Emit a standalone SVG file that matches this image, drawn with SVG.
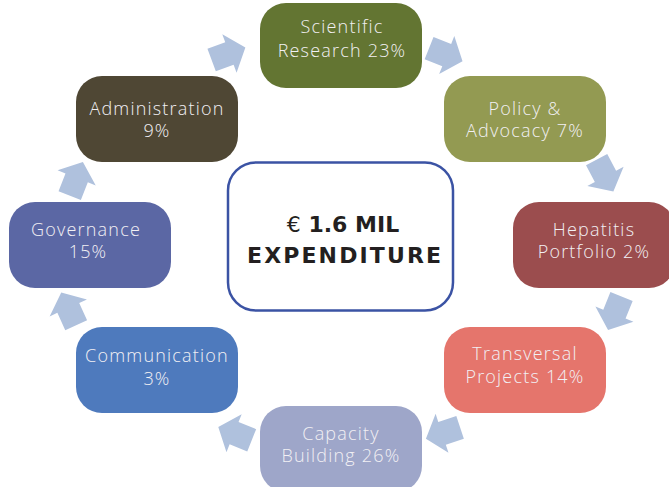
<svg xmlns="http://www.w3.org/2000/svg" xmlns:xlink="http://www.w3.org/1999/xlink" width="669" height="487" viewBox="0 0 669 487">
<style>
.box{stroke:none}
.lbl{font-family:"Open Sans","Liberation Sans",sans-serif;font-weight:300;font-size:18px;letter-spacing:1.2px;fill:#F2F0F4;text-anchor:middle}
.ctr{font-family:"DejaVu Sans","Liberation Sans",sans-serif;font-weight:bold;font-size:22px;fill:#231F20;text-anchor:middle}
.arr{fill:#AFC1DD}
</style>
<defs>
<polygon id="arr" points="-18,-12 1,-12 1,-20.5 18,0 1,20.5 1,12 -18,12"/>
</defs>
<rect width="669" height="487" fill="#FFFFFF"/>
<g id="connectors" class="arr">
<use xlink:href="#arr" transform="translate(228.5,53.8) rotate(-20.4)"/>
<use xlink:href="#arr" transform="translate(445.8,54.7) rotate(21.7)"/>
<use xlink:href="#arr" transform="translate(605,175.5) rotate(62.3)"/>
<use xlink:href="#arr" transform="translate(614.8,313.2) rotate(112)"/>
<use xlink:href="#arr" transform="translate(443,433) rotate(161.7)"/>
<use xlink:href="#arr" transform="translate(235,433.6) rotate(201.8)"/>
<use xlink:href="#arr" transform="translate(68.7,308.8) rotate(245.5)"/>
<use xlink:href="#arr" transform="translate(76.3,178.8) rotate(-68.5)"/>
</g>
<g id="center">
<rect x="228" y="162.5" width="225" height="148" rx="28" fill="#FFFFFF" stroke="#3B53A4" stroke-width="2.5"/>
<text class="ctr" x="343" y="232"><tspan font-weight="normal">€</tspan> 1.6 MIL</text>
<text class="ctr" x="344" y="263" textLength="194" lengthAdjust="spacing">EXPENDITURE</text>
</g>
<g id="scientific">
<rect class="box" x="260" y="3" width="162" height="85" rx="26" fill="#637532"/>
<text class="lbl" x="342" y="33.3">Scientific</text>
<text class="lbl" x="342" y="56.7">Research 23%</text>
</g>
<g id="policy">
<rect class="box" x="444" y="76" width="162" height="86" rx="26" fill="#939A52"/>
<text class="lbl" x="525" y="115">Policy &amp;</text>
<text class="lbl" x="525" y="136.7">Advocacy 7%</text>
</g>
<g id="hepatitis">
<rect class="box" x="513" y="202" width="162" height="86" rx="26" fill="#9B4D4E"/>
<text class="lbl" x="594" y="235.7">Hepatitis</text>
<text class="lbl" x="594" y="257.7">Portfolio 2%</text>
</g>
<g id="transversal">
<rect class="box" x="444" y="327" width="162" height="86" rx="26" fill="#E5756C"/>
<text class="lbl" x="525" y="360">Transversal</text>
<text class="lbl" x="525" y="382.7">Projects 14%</text>
</g>
<g id="capacity">
<rect class="box" x="260" y="406" width="162" height="86" rx="26" fill="#9EA6C9"/>
<text class="lbl" x="341" y="440">Capacity</text>
<text class="lbl" x="341" y="461.7">Building 26%</text>
</g>
<g id="communication">
<rect class="box" x="76" y="327" width="162" height="86" rx="26" fill="#4E7ABD"/>
<text class="lbl" x="157" y="362.3">Communication</text>
<text class="lbl" x="157" y="385">3%</text>
</g>
<g id="governance">
<rect class="box" x="9" y="202" width="162" height="86" rx="26" fill="#5B67A4"/>
<text class="lbl" x="86" y="235.7">Governance</text>
<text class="lbl" x="88" y="258.3">15%</text>
</g>
<g id="administration">
<rect class="box" x="76" y="76" width="162" height="86" rx="26" fill="#4F4734"/>
<text class="lbl" x="157" y="115">Administration</text>
<text class="lbl" x="157" y="136.7">9%</text>
</g>
</svg>
